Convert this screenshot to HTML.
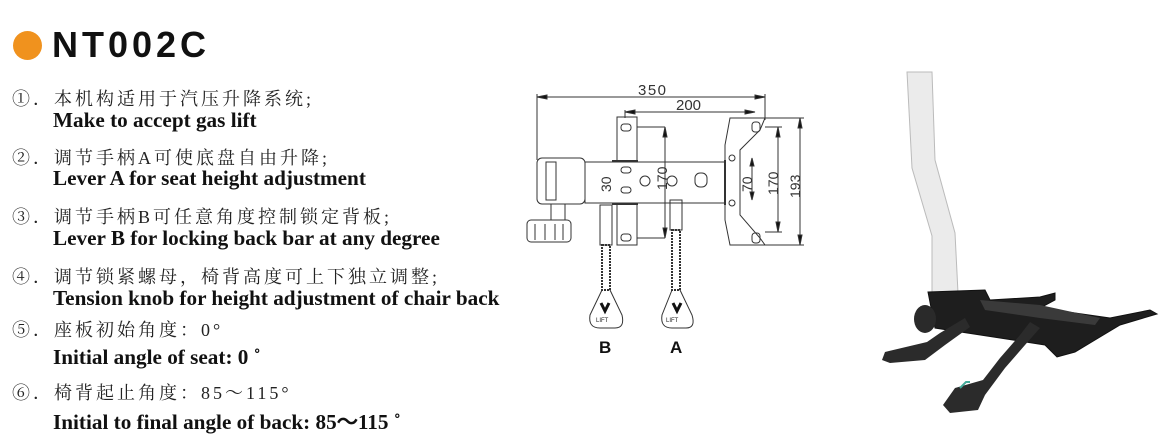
<!DOCTYPE html>
<html><head><meta charset="utf-8"><style>
body{margin:0;width:1167px;height:439px;background:#fff;position:relative;overflow:hidden;font-family:"Liberation Sans","Noto Sans CJK SC",sans-serif}
.t{position:absolute;white-space:nowrap}
.cn{font-size:18px;color:#222;font-family:"Liberation Serif","Noto Serif CJK SC",serif;letter-spacing:3px}
.en{font-size:21.2px;font-weight:bold;color:#111;font-family:"Liberation Serif",serif;left:53px}
</style></head><body>
<div style="position:absolute;left:13px;top:31px;width:29px;height:29px;border-radius:50%;background:#f0921e"></div>
<div class="t" style="left:52px;top:24px;font-size:36px;font-weight:bold;letter-spacing:4px;color:#111">NT002C</div>
<div class="t cn" style="left:12px;top:85px">①．本机构适用于汽压升降系统;</div>
<div class="t en" style="top:108px">Make to accept gas lift</div>
<div class="t cn" style="left:12px;top:144px">②．调节手柄A可使底盘自由升降;</div>
<div class="t en" style="top:166px">Lever A for seat height adjustment</div>
<div class="t cn" style="left:12px;top:203px">③．调节手柄B可任意角度控制锁定背板;</div>
<div class="t en" style="top:226px">Lever B for locking back bar at any degree</div>
<div class="t cn" style="left:12px;top:263px">④．调节锁紧螺母，椅背高度可上下独立调整;</div>
<div class="t en" style="top:286px">Tension knob for height adjustment of chair back</div>
<div class="t cn" style="left:12px;top:316px">⑤．座板初始角度：0°</div>
<div class="t en" style="top:345px">Initial angle of seat: 0 ˚</div>
<div class="t cn" style="left:12px;top:379px">⑥．椅背起止角度：85～115°</div>
<div class="t en" style="top:405px">Initial to final angle of back: 85～115 ˚</div>

<svg width="1167" height="439" style="position:absolute;left:0;top:0" fill="none" stroke="#333" stroke-width="1">
<line x1="537" y1="97" x2="765" y2="97"/><line x1="537" y1="94" x2="537" y2="160"/><line x1="765" y1="94" x2="765" y2="120"/>
<line x1="625" y1="112" x2="755" y2="112"/><line x1="625" y1="110" x2="625" y2="118"/>
<polygon points="537,97 547,95 547,99" fill="#111"/><polygon points="765,97 755,95 755,99" fill="#111"/>
<polygon points="625,112 635,110 635,114" fill="#111"/><polygon points="755,112 745,110 745,114" fill="#111"/>
<text x="638" y="95" font-size="15" fill="#333" stroke="none" font-family="Liberation Sans" textLength="28">350</text>
<text x="676" y="110" font-size="15" fill="#333" stroke="none" font-family="Liberation Sans">200</text>
<rect x="585" y="162" width="140" height="41"/>
<line x1="612" y1="161" x2="638" y2="161" stroke-width="2"/><line x1="612" y1="204" x2="638" y2="204" stroke-width="2"/>
<line x1="725" y1="160" x2="725" y2="205" stroke-width="2"/>
<rect x="617" y="117" width="20" height="45"/><rect x="617" y="203" width="20" height="42"/>
<rect x="621" y="124" width="10" height="7" rx="3"/><rect x="621" y="234" width="10" height="7" rx="3"/>
<rect x="621" y="167" width="10" height="6" rx="3"/><rect x="621" y="187" width="10" height="6" rx="3"/>
<circle cx="645" cy="181" r="5"/><circle cx="672" cy="181" r="5"/><rect x="695" y="173" width="12" height="14" rx="5"/>
<line x1="637" y1="127" x2="665" y2="127"/><line x1="637" y1="238" x2="665" y2="238"/>
<line x1="665" y1="127" x2="665" y2="238"/>
<polygon points="665,127 663,137 667,137" fill="#111"/><polygon points="665,238 663,228 667,228" fill="#111"/>
<text x="0" y="0" font-size="14" fill="#333" stroke="none" transform="translate(667,190) rotate(-90)">170</text>
<text x="0" y="0" font-size="14" fill="#333" stroke="none" transform="translate(611,192) rotate(-90)">30</text>
<rect x="537" y="158" width="48" height="46" rx="5"/><rect x="546" y="162" width="10" height="38"/>
<rect x="551" y="204" width="14" height="16"/><rect x="527" y="220" width="44" height="22" rx="4"/>
<line x1="535" y1="224" x2="535" y2="240"/><line x1="545" y1="224" x2="545" y2="240"/><line x1="555" y1="224" x2="555" y2="240"/><line x1="563" y1="224" x2="563" y2="240"/>
<polygon points="730,118 765,118 760,130 740,150 740,215 760,238 765,245 730,245 725,220 725,145"/>
<rect x="752" y="122" width="8" height="10" rx="3"/><rect x="752" y="233" width="8" height="10" rx="3"/>
<circle cx="732" cy="158" r="3"/><circle cx="732" cy="203" r="3"/>
<line x1="752" y1="158" x2="752" y2="200"/><polygon points="752,158 750,166 754,166" fill="#111"/><polygon points="752,200 750,192 754,192" fill="#111"/>
<text x="0" y="0" font-size="14" fill="#333" stroke="none" transform="translate(752,192) rotate(-90)">70</text>
<line x1="765" y1="127" x2="782" y2="127"/><line x1="778" y1="127" x2="778" y2="232"/><line x1="765" y1="232" x2="782" y2="232"/>
<polygon points="778,127 776,137 780,137" fill="#111"/><polygon points="778,232 776,222 780,222" fill="#111"/>
<text x="0" y="0" font-size="14" fill="#333" stroke="none" transform="translate(778,195) rotate(-90)">170</text>
<line x1="765" y1="118" x2="804" y2="118"/><line x1="800" y1="118" x2="800" y2="245"/><line x1="765" y1="245" x2="804" y2="245"/>
<polygon points="800,118 798,128 802,128" fill="#111"/><polygon points="800,245 798,235 802,235" fill="#111"/>
<text x="0" y="0" font-size="14" fill="#333" stroke="none" transform="translate(800,198) rotate(-90)">193</text>
<rect x="600" y="205" width="12" height="40"/><rect x="602" y="245" width="8" height="45" stroke-dasharray="2,1" stroke-width="2"/>
<path d="M602,290 L590,315 Q588,328 600,328 L615,328 Q625,328 622,315 L610,290"/>
<rect x="670" y="200" width="12" height="30"/><rect x="672" y="230" width="8" height="60" stroke-dasharray="2,1" stroke-width="2"/>
<path d="M672,290 L662,315 Q660,328 672,328 L686,328 Q696,328 692,315 L680,290"/>
<text x="596" y="322" font-size="6" fill="#222" stroke="none">LIFT</text><text x="666" y="322" font-size="6" fill="#222" stroke="none">LIFT</text>
<path d="M601,303 l4,8 l4,-8" stroke="#111" stroke-width="3"/><path d="M673,303 l4,8 l4,-8" stroke="#111" stroke-width="3"/>
<text x="599" y="353" font-size="17" font-weight="bold" fill="#111" stroke="none">B</text>
<text x="670" y="353" font-size="17" font-weight="bold" fill="#111" stroke="none">A</text>
<path d="M907,72 L932,72 L935,160 L955,233 L958,293 L932,293 L932,236 L912,168 Z" fill="#ebebeb" stroke="#bbb"/>
<path d="M928,292 L985,290 L990,300 L1040,297 L1055,293 L1055,300 L1040,308 L1110,318 L1150,310 L1157,314 L1120,325 L1100,337 L1075,352 L1057,357 L1045,345 L1000,338 L935,328 Z" fill="#1e1e1e" stroke="#111"/>
<path d="M980,300 L1040,305 L1100,318 L1095,325 L1040,318 L985,310 Z" fill="#3a3a3a" stroke="none"/>
<ellipse cx="925" cy="319" rx="11" ry="14" fill="#2a2a2a" stroke="none"/>
<path d="M965,318 L940,333 L927,342 L885,352 L882,360 L890,363 L925,360 L945,345 L970,327 Z" fill="#2b2b2b" stroke="none"/>
<path d="M1030,322 L1020,335 L1000,358 L983,380 L955,388 L943,405 L950,413 L978,410 L985,395 L1005,368 L1025,345 L1040,328 Z" fill="#2b2b2b" stroke="none"/>
<path d="M960,388 l6,-6 l4,0" stroke="#4a9" stroke-width="2"/>
</svg>
</body></html>
